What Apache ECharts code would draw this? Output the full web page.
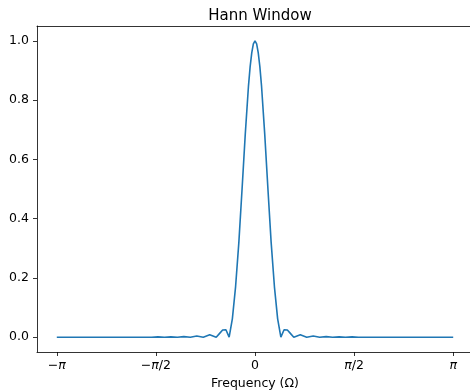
<!DOCTYPE html>
<html>
<head>
<meta charset="utf-8">
<script src="https://cdn.jsdelivr.net/npm/echarts@6/dist/echarts.min.js"></script>
<style>
  html, body { margin: 0; padding: 0; background: #fff; }
  #chart { width: 470px; height: 392px; }
</style>
</head>
<body>
<div id="chart"></div>
<script>
// frequency (rad) and normalised magnitude
var freq = [
  -3.142, -1.640, -1.538, -1.435, -1.333, -1.230, -1.128, -1.025, -0.923, -0.820,
  -0.718, -0.615, -0.564, -0.513, -0.461, -0.410, -0.359, -0.308, -0.256, -0.205,
  -0.154, -0.103, -0.077, -0.051, -0.026, 0.000, 0.026, 0.051, 0.077, 0.103,
  0.154, 0.205, 0.256, 0.308, 0.359, 0.410, 0.461, 0.513, 0.564, 0.615,
  0.718, 0.820, 0.923, 1.025, 1.128, 1.230, 1.333, 1.435, 1.538, 1.640,
  3.142
];
var magnitude = [
  0.000, 0.000, 0.001, 0.000, 0.001, 0.000, 0.002, 0.000, 0.004, 0.000,
  0.008, 0.000, 0.012, 0.024, 0.025, 0.000, 0.062, 0.170, 0.320, 0.500,
  0.686, 0.849, 0.913, 0.960, 0.990, 1.000, 0.990, 0.960, 0.913, 0.849,
  0.686, 0.500, 0.320, 0.170, 0.062, 0.000, 0.025, 0.024, 0.012, 0.000,
  0.008, 0.000, 0.004, 0.000, 0.002, 0.000, 0.001, 0.000, 0.001, 0.000,
  0.000
];
var xTicks = [-Math.PI, -Math.PI / 2, 0, Math.PI / 2, Math.PI];
var xTickLabels = ['\u2212{i|\u03c0}', '\u2212{i|\u03c0}/2', '0', '{i|\u03c0}/2', '{i|\u03c0}'];
var yTicks = [0, 0.2, 0.4, 0.6, 0.8, 1.0];

var chart = echarts.init(document.getElementById('chart'));

var font = 'DejaVu Sans';
var spine = { show: true, onZero: false, lineStyle: { color: '#000', width: 0.8 } };
chart.setOption({
  animation: false,
  title: {
    text: 'Hann Window',
    left: 255, top: 4, textAlign: 'center',
    textStyle: { fontFamily: font, fontSize: 15, fontWeight: 'normal', color: '#000' }
  },
  grid: {
    // right spine falls just outside the picture, as in the original
    left: 37, width: 436, top: 26, height: 326,
    outerBoundsMode: 'none'
  },
  xAxis: [{
    type: 'value',
    min: -Math.PI * 1.1, max: Math.PI * 1.1,
    name: 'Frequency (\u03a9)',
    nameLocation: 'middle', nameGap: 25,
    nameTextStyle: { fontFamily: font, fontSize: 12.5, color: '#000' },
    axisLine: spine,
    splitLine: { show: false },
    axisTick: { show: true, length: 4, customValues: xTicks, lineStyle: { color: '#000', width: 0.8 } },
    axisLabel: {
      customValues: xTicks, margin: 7,
      fontFamily: font, fontSize: 12.5, color: '#000',
      rich: { i: { fontFamily: font, fontSize: 12.5, fontStyle: 'italic', color: '#000' } },
      formatter: function (v) {
        var i = xTicks.findIndex(function (t) { return Math.abs(t - v) < 1e-6; });
        return i >= 0 ? xTickLabels[i] : '';
      }
    }
  }, {
    // top spine only
    type: 'value', position: 'top',
    min: -Math.PI * 1.1, max: Math.PI * 1.1,
    axisLine: spine,
    axisTick: { show: false },
    axisLabel: { show: false },
    splitLine: { show: false }
  }],
  yAxis: {
    type: 'value',
    min: -0.05, max: 1.05,
    axisLine: spine,
    splitLine: { show: false },
    axisTick: { show: true, length: 4, customValues: yTicks, lineStyle: { color: '#000', width: 0.8 } },
    axisLabel: {
      customValues: yTicks, margin: 8,
      fontFamily: font, fontSize: 12.5, color: '#000',
      formatter: function (v) { return v.toFixed(1); }
    }
  },
  series: [{
    type: 'line',
    data: freq.map(function (f, i) { return [f, magnitude[i]]; }),
    showSymbol: false,
    smooth: false,
    lineStyle: { color: '#1f77b4', width: 1.6 }
  }]
});
</script>
</body>
</html>
